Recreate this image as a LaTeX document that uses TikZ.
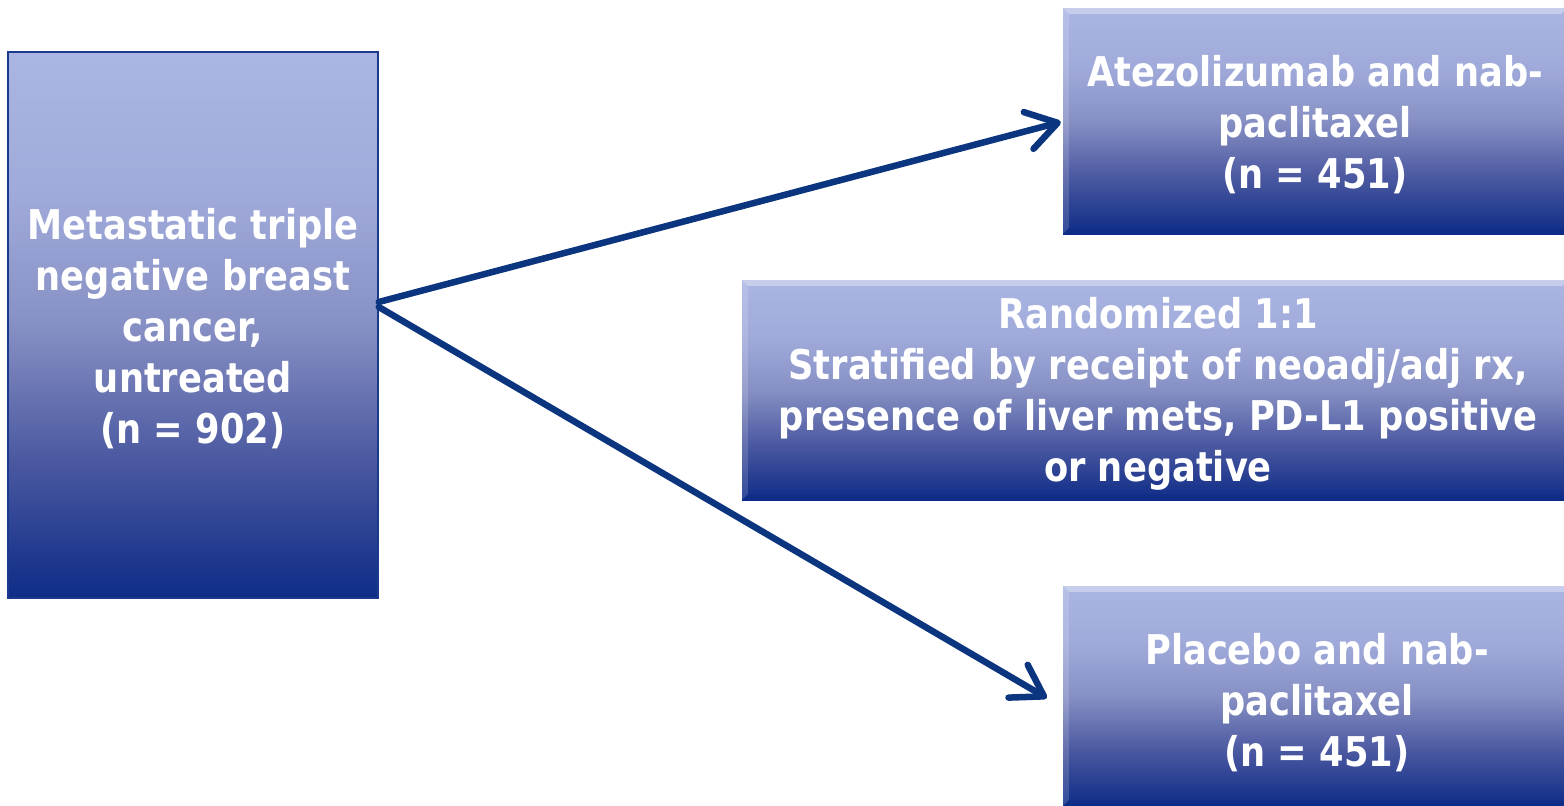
\documentclass[tikz,border=0pt]{standalone}
\usepackage{fontspec}
\setmainfont{DejaVu Sans}[FakeStretch=0.86]
\usetikzlibrary{arrows.meta}
\definecolor{c0}{HTML}{AAB5E3}
\definecolor{c1}{HTML}{A1ABDB}
\definecolor{c2}{HTML}{8790C4}
\definecolor{c3}{HTML}{4A58A0}
\definecolor{c4}{HTML}{0E2C87}
\definecolor{bordc}{HTML}{1B3A8C}
\definecolor{arrc}{HTML}{0B357F}
\pgfdeclareverticalshading{boxshade}{100bp}{color(0bp)=(c4); color(25bp)=(c4); color(37.5bp)=(c3); color(50bp)=(c2); color(62.5bp)=(c1); color(75bp)=(c0); color(100bp)=(c0)}
\begin{document}
\begin{tikzpicture}[x=1pt,y=-1pt,
  box/.style={shading=boxshade, inner sep=0pt},
  txt/.style={inner sep=0pt, align=center, text=white,
    font=\bfseries\fontsize{41}{51}\selectfont},
  arr/.style={draw=arrc, line width=6.5pt, line cap=round,
    -{Straight Barb[length=30pt,width=38pt,round]}},
  hilite/.style={fill=white, opacity=0.35},
  sidelite/.style={fill=white, opacity=0.15},
  bottomdark/.style={fill=c4, opacity=0.5}]
\useasboundingbox (0,0) rectangle (1564,806);
\fill[white] (0,0) rectangle (1564,806);

\node[box, minimum width=370pt, minimum height=546pt, draw=bordc, line width=1.5pt] (L) at (193,325) {};
\node[box, minimum width=504pt, minimum height=226pt] (T) at (1315,121) {};
\node[box, minimum width=826pt, minimum height=220pt] (M) at (1155,390) {};
\node[box, minimum width=508pt, minimum height=220pt] (B) at (1317,696) {};

\foreach \n in {T,M,B}{
  \fill[hilite] (\n.north west) -- (\n.north east) -- ([xshift=-6pt,yshift=-6pt]\n.north east) -- ([xshift=6pt,yshift=-6pt]\n.north west) -- cycle;
  \fill[sidelite] (\n.north west) -- ([xshift=6pt,yshift=-6pt]\n.north west) -- ([xshift=6pt,yshift=6pt]\n.south west) -- (\n.south west) -- cycle;
  \fill[bottomdark] (\n.south west) -- ([xshift=6pt,yshift=6pt]\n.south west) -- ([xshift=-6pt,yshift=6pt]\n.south east) -- (\n.south east) -- cycle;
}

\node[txt] (Lt) at ([yshift=-4pt]L.center)
  {Metastatic triple\\negative breast\\cancer,\\untreated\\(n = 902)};
\node[txt] (Tt) at ([yshift=-4pt]T.center)
  {Atezolizumab and nab-\\paclitaxel\\(n = 451)};
\node[txt] (Mt) at ([xshift=3pt,yshift=-4pt]M.center)
  {Randomized 1:1\\Stratified by receipt of neoadj/adj rx,\\presence of liver mets, PD-L1 positive\\or negative};
\node[txt] (Bt) at ([yshift=-7pt]B.center)
  {Placebo and nab-\\paclitaxel\\(n = 451)};

\coordinate (s1) at ([yshift=23pt]L.east);
\coordinate (s2) at ([yshift=18pt]L.east);
\coordinate (e1) at ([xshift=-2pt,yshift=-1pt]T.west);
\coordinate (e2) at ([xshift=-16pt,yshift=-2pt]B.west);
\draw[arr] (s1) -- (e1);
\draw[arr] (s2) -- (e2);
\end{tikzpicture}
\end{document}
